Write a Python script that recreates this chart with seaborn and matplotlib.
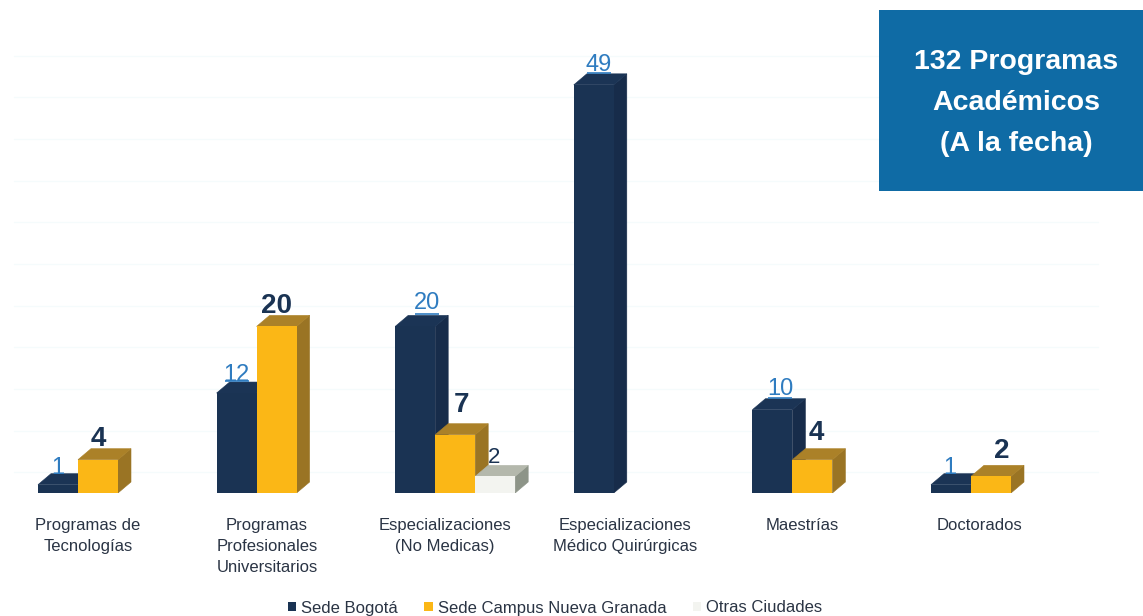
import matplotlib
matplotlib.use("Agg")
import matplotlib.pyplot as plt
from matplotlib.patches import Polygon, Rectangle
import pandas as pd
import seaborn as sns

# ---- data ----
categories = ["Programas de\nTecnologías", "Programas\nProfesionales\nUniversitarios",
              "Especializaciones\n(No Medicas)", "Especializaciones\nMédico Quirúrgicas",
              "Maestrías", "Doctorados"]
series_names = ["Sede Bogotá", "Sede Campus Nueva Granada", "Otras Ciudades"]
bogota = [1, 12, 20, 49, 10, 1]
nueva_granada = [4, 20, 7, None, 4, 2]
otras = [None, None, 2, None, None, None]
box_text = "132 Programas\nAcadémicos\n(A la fecha)"

# ---- styles ----
W, H = 1143, 616
BASE_PX, PX_PER_UNIT = 493, 8.33
GROUP_PX, FIRST_CENTER_PX = 178.6, 98
BAR_GROUP_PX = 120
DX_PX, DY_PX = 13, 11
front = ["#1a3353", "#fbb716", "#f3f4f0"]
top = ["#1b3455", "#ab8128", "#b4b8ac"]
side = ["#172c4a", "#9a7424", "#8d9488"]
BLUE, DARK, TEXT = "#2f7cc0", "#1a3353", "#2a3444"
tick_centers_px = [88, 267, 445, 625, 802, 980]
# label nudges in pixels per series: (x shift, gap above the bar's back edge)
nudges = [
    [(0, 0), (0, 1), (12, 6), (5, 3), (8, 4), (-1, 0)],
    [(0, 3), (0, 2), (6, 12), None, (4, 9), (11, 7)],
    [None, None, (-1, 2), None, None, None],
]

sns.set_theme(style="white")
plt.rcParams["font.family"] = ["Liberation Sans", "DejaVu Sans"]

df = pd.DataFrame({
    "cat": categories * 3,
    "serie": sum([[s] * len(categories) for s in series_names], []),
    "valor": bogota + nueva_granada + otras,
}).dropna()

fig = plt.figure(figsize=(W / 100, H / 100), dpi=100, facecolor="white")
ax = fig.add_axes([0, (H - BASE_PX) / H, 1, BASE_PX / H])
sns.barplot(data=df, x="cat", y="valor", hue="serie", order=categories, hue_order=series_names,
            palette=dict(zip(series_names, front)), width=BAR_GROUP_PX / GROUP_PX,
            saturation=1, gap=0, dodge=True, errorbar=None, ax=ax, linewidth=0)
handles, labels = ax.get_legend_handles_labels()

ax.set_xlim((0 - FIRST_CENTER_PX) / GROUP_PX, (W - FIRST_CENTER_PX) / GROUP_PX)
ax.set_ylim(0, BASE_PX / PX_PER_UNIT)
dx, dy = DX_PX / GROUP_PX, DY_PX / PX_PER_UNIT
unit_x = 1 / GROUP_PX

# faint wall gridlines
for g in [2.5 + 5 * k for k in range(11)]:
    ax.plot([-0.47, 5.6], [g, g], color="#f5fbfc", lw=1, zorder=0.5)

for s, cont in enumerate(ax.containers):
    vals = [bogota, nueva_granada, otras][s]
    present = [i for i, v in enumerate(vals) if v is not None]
    for bar, i in zip(cont.patches, present):
        x0, w, h = bar.get_x(), bar.get_width(), bar.get_height()
        x1 = x0 + w
        z = 2 + s
        bar.set_zorder(z + 0.2)
        ax.add_patch(Polygon([(x1, 0), (x1 + dx, dy), (x1 + dx, h + dy), (x1, h)],
                             closed=True, fc=side[s], ec=side[s], lw=0.4, zorder=z))
        ax.add_patch(Polygon([(x0, h), (x0 + dx, h + dy), (x1 + dx, h + dy), (x1, h)],
                             closed=True, fc=top[s], ec=top[s], lw=0.4, zorder=z + 0.1))
        nx, gap = nudges[s][i]
        is_blue = s == 0
        xc = x0 + w / 2 + nx * unit_x
        yb = h + dy
        ax.annotate(str(vals[i]), (xc, yb), xytext=(0, gap), textcoords="offset pixels",
                    ha="center", va="baseline", fontsize=17 if is_blue else 20 if s == 1 else 16,
                    fontweight="normal" if is_blue or s == 2 else "bold",
                    color=BLUE if is_blue else DARK, zorder=8,
                    annotation_clip=False)
        if is_blue and gap > 0:
            half = 12 * unit_x
            ax.plot([xc - half, xc + half], [yb + 0.12, yb + 0.12], color=BLUE, lw=1.2, zorder=7,
                    solid_capstyle="butt")

ax.set_xticks([(c - FIRST_CENTER_PX) / GROUP_PX for c in tick_centers_px])
ax.set_xticklabels(categories, fontsize=12, color=TEXT, linespacing=1.5)
ax.tick_params(axis="x", length=0, pad=18)
ax.set_yticks([])
ax.set_xlabel("")
ax.set_ylabel("")
sns.despine(ax=ax, left=True, bottom=True)
ax.patch.set_alpha(0)

# summary box
fig.add_artist(Rectangle((879 / W, 1 - 191 / H), (W - 879) / W, 181 / H,
                         transform=fig.transFigure, fc="#0f6ba5", ec="none", zorder=5))
fig.text(1016 / W, 1 - 103 / H, box_text, ha="center", va="center", color="white",
         fontsize=20.5, fontweight="bold", linespacing=1.75, zorder=6)

leg = ax.legend(handles, labels, ncol=3, loc="center", bbox_to_anchor=(555 / W, 8 / H),
                bbox_transform=fig.transFigure, frameon=False, fontsize=12,
                handlelength=0.5, handleheight=0.5, handletextpad=0.3, columnspacing=1.6,
                labelcolor=TEXT, borderpad=0, borderaxespad=0)

fig.savefig("out.png", dpi=100, facecolor="white")
